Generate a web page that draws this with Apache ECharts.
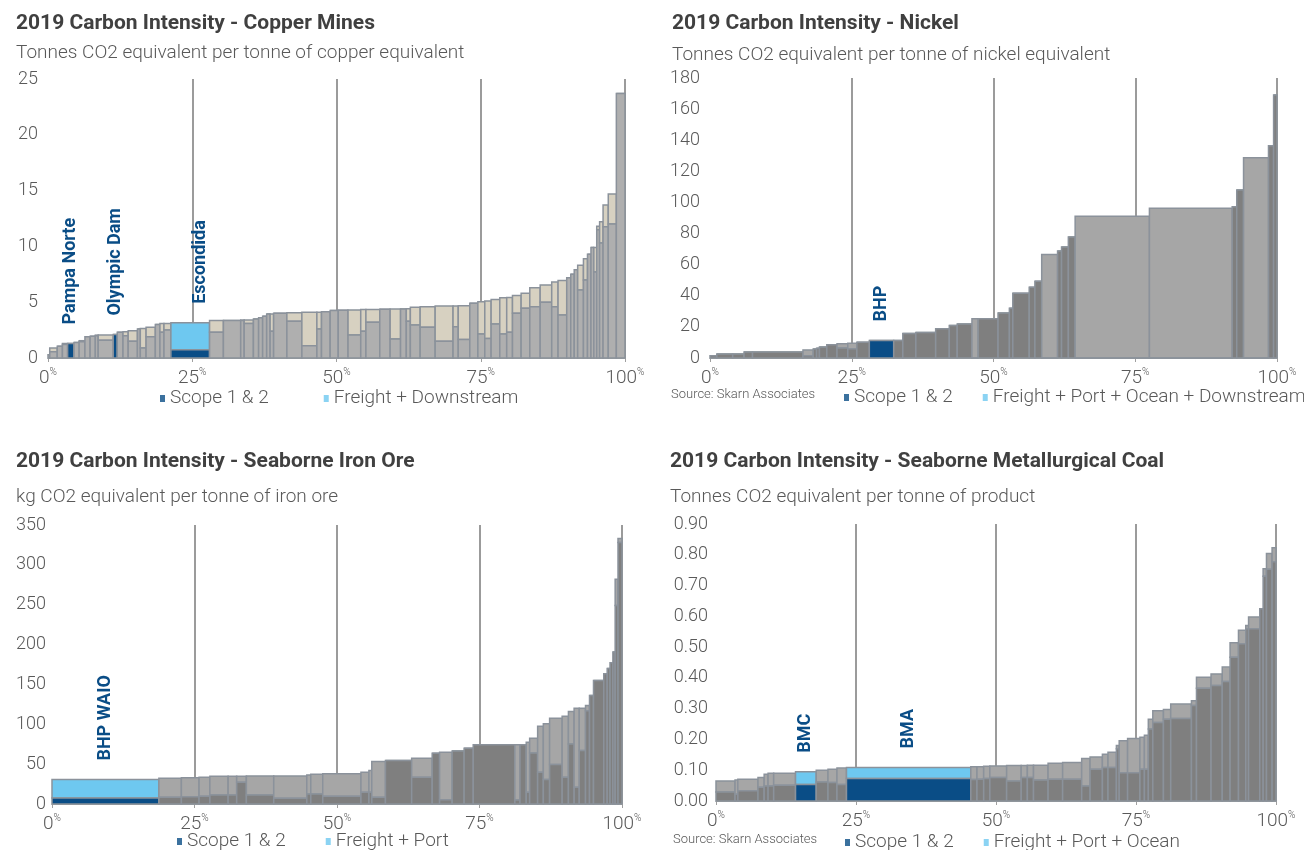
<!DOCTYPE html>
<html>
<head>
<meta charset="utf-8">
<script src="https://cdn.jsdelivr.net/npm/echarts@6/dist/echarts.min.js"></script>
<style>html,body{margin:0;padding:0;background:#fff}#c{width:1304px;height:850px}</style>
</head>
<body>
<div id="c"></div>
<script>
// ---------- DATA ----------
const xTicks = [0, 25, 50, 75, 100];

// Copper: share of production (%), scope 1&2, total (t CO2e / t CuEq)
const copperShare = [0.3,1.3,0.9,0.9,1.1,0.9,1.0,0.9,0.9,0.5,2.6,0.7,1.0,0.9,1.6,0.5,1.0,1.6,0.8,0.7,1.2,6.7,2.4,3.0,0.6,1.6,0.9,0.7,0.7,0.6,0.6,2.3,2.6,2.6,0.8,1.5,1.4,1.7,2.2,0.9,2.4,1.8,1.8,1.0,0.7,1.7,2.6,3.1,0.9,2.0,1.4,1.2,1.1,1.5,1.2,1.0,1.5,1.5,1.8,2.0,1.1,1.5,0.7,0.6,0.6,1.0,0.7,0.6,0.5,0.5,0.5,0.6,0.9,1.4,1.5];
const copperScope = [0.3,0.55,1.05,1.2,1.3,1.4,1.45,1.9,1.95,2.0,1.6,2.1,2.3,2.0,1.5,2.6,0.9,1.9,3.0,2.3,2.5,0.75,2.3,3.35,3.35,3.1,3.5,3.6,3.75,3.95,2.4,4.0,3.3,1.1,2.6,4.15,4.25,4.28,2.05,2.4,3.2,4.36,1.7,4.4,3.3,2.95,2.75,1.5,2.8,1.65,4.9,2.15,1.75,3.05,2.15,2.3,4.0,4.45,4.6,5.0,4.6,3.85,7.2,7.5,7.9,6.1,7.0,9.3,9.9,7.7,11.5,10.3,11.75,12.0,23.7];
const copperTotal = [0.3,0.9,1.05,1.3,1.3,1.4,1.55,1.9,1.95,2.05,2.05,2.1,2.3,2.35,2.45,2.6,2.65,2.75,3.0,3.1,3.1,3.15,3.35,3.35,3.4,3.4,3.5,3.6,3.75,3.95,3.95,4.0,4.05,4.1,4.1,4.15,4.25,4.28,4.3,4.34,4.35,4.36,4.38,4.4,4.42,4.55,4.6,4.65,4.65,4.68,4.9,5.05,5.1,5.25,5.4,5.42,5.6,5.8,6.3,6.55,6.8,6.95,7.2,7.5,7.9,8.3,8.9,9.3,9.9,9.9,11.8,12.2,13.7,14.7,23.7];
const copperBHPIndex = [4, 11, 21];
const copperBHPNames = ['Pampa Norte', 'Olympic Dam', 'Escondida'];

// Nickel
const nickelShare = [1.2,2.8,2.0,1.5,8.9,1.8,0.6,0.5,1.3,1.8,1.9,1.6,2.2,4.3,1.6,2.3,3.5,2.4,1.4,2.6,1.1,3.5,2.0,0.6,2.9,1.0,1.2,2.8,0.7,1.2,1.2,13.1,14.6,0.8,1.2,4.4,0.9,0.6];
const nickelScope = [1.5,2.5,2.5,3.8,3.8,1.5,5.8,6.2,7.0,8.5,6.5,6.0,10.2,11.3,11.3,15.8,16.4,18.8,20.9,21.8,0,25.2,28.9,32,41.6,45.5,49.4,0,68.8,71.3,77.8,0,0,97.2,108,0,136.4,169];
const nickelTotal = [1.5,2.5,2.5,3.8,3.8,5.2,5.8,6.2,7.0,8.5,9.2,9.5,10.2,11.3,11.3,15.8,16.4,18.8,20.9,21.8,25.2,25.2,28.9,32,41.6,45.5,49.4,66.6,68.8,71.3,77.8,91.2,96.3,97.2,108,128.7,136.4,169];
const nickelBHPIndex = [13];
const nickelBHPNames = ['BHP'];

// Seaborne iron ore (kg CO2e / t)
const ironShare = [18.75,3.95,3.1,1.9,3.2,1.5,1.7,4.8,5.8,0.7,2.1,6.7,1.4,0.5,2.4,4.6,3.6,1.3,2.2,2.1,1.6,7.3,0.9,1.1,0.6,1.4,1.0,1.1,2.2,1.1,1.0,0.9,1.1,0.7,0.7,1.8,0.6,0.5,0.5,0.4,0.5,0.7];
const ironScope = [7.5,8.4,9.2,9.6,11.3,11.3,27.2,11.3,7.1,12.6,12.6,9.6,14.7,14.7,8.4,54.5,33.5,63.7,5.4,66.6,70,74.2,5,74.2,14.7,64,39.8,30.6,49.5,33.5,75.4,21,67,117,136,155,163.5,170,177.3,190.7,249,328];
const ironTotal = [30.6,32.3,33,33.5,34.8,34.8,34.8,35.2,35.2,36.5,37.3,38.1,39.8,42,53.2,54.5,57.4,63.7,65,66.6,70,74.2,74.2,74.2,77.5,82.6,97.6,100.6,107.7,110.2,116,120,120,123.6,136,155,163.5,170,177.3,190.7,282,333];
const ironBHPIndex = [0];
const ironBHPNames = ['BHP WAIO'];

// Seaborne metallurgical coal (t CO2e / t product)
const coalShare = [3.4,0.5,3.6,1.1,0.7,1.0,3.9,3.7,2.1,1.6,1.7,22.2,1.1,1.2,1.1,3.0,2.6,1.1,1.1,2.6,2.6,3.4,1.5,2.2,1.0,1.5,0.5,1.5,2.2,0.8,0.7,0.8,1.9,1.3,3.7,0.9,2.6,2.0,1.4,1.5,1.3,0.5,2.0,0.6,0.6,1.0,0.7];
const coalScope = [0.029,0.022,0.033,0.045,0.049,0.049,0.051,0.054,0.062,0.06,0.054,0.073,0.07,0.071,0.073,0.076,0.065,0.076,0.076,0.068,0.071,0.071,0.049,0.103,0.109,0.109,0.17,0.092,0.092,0.103,0.103,0.234,0.255,0.266,0.268,0.31,0.366,0.375,0.388,0.467,0.511,0.56,0.56,0.625,0.73,0.753,0.777];
const coalTotal = [0.065,0.068,0.071,0.076,0.087,0.09,0.09,0.095,0.10,0.103,0.107,0.109,0.111,0.111,0.113,0.114,0.115,0.115,0.116,0.116,0.123,0.125,0.138,0.143,0.152,0.158,0.18,0.196,0.203,0.207,0.214,0.266,0.293,0.297,0.315,0.326,0.402,0.413,0.435,0.514,0.555,0.57,0.598,0.625,0.755,0.804,0.823];
const coalBHPIndex = [7, 11];
const coalBHPNames = ['BMC', 'BMA'];

// ---------- STYLE ----------
const FONT = 'Roboto, "Liberation Sans", sans-serif';
const TXT = '#595959';
const DARKBLUE = '#0a4d86';
const LIGHTBLUE = '#6ec8f0';
const OUTLINE = '#8b929b';

const panels = [
  { title: '2019 Carbon Intensity - Copper Mines', sub: 'Tonnes CO2 equivalent per tonne of copper equivalent',
    titleLeft: 16, titleTop: 13, gap: 10,
    grid: {left: 48, top: 79, width: 577, height: 279}, yMax: 25, yInt: 5, yDec: 0, yMargin: 10,
    share: copperShare, scope: copperScope, total: copperTotal, hiIdx: copperBHPIndex, hiNames: copperBHPNames,
    cScope: '#afafaf', cFreight: '#d7d1c1',
    legendNames: ['Scope 1 & 2', 'Freight + Downstream'], legend: {left: 160, top: 389, itemGap: 55},
    labelDx: {Escondida: 10} },
  { title: '2019 Carbon Intensity - Nickel', sub: 'Tonnes CO2 equivalent per tonne of nickel equivalent',
    titleLeft: 672, titleTop: 13, gap: 12,
    grid: {left: 710, top: 78, width: 567, height: 280}, yMax: 180, yInt: 20, yDec: 0, yMargin: 10,
    share: nickelShare, scope: nickelScope, total: nickelTotal, hiIdx: nickelBHPIndex, hiNames: nickelBHPNames,
    cScope: '#7f7f7f', cFreight: '#a6a6a6',
    legendNames: ['Scope 1 & 2', 'Freight + Port + Ocean + Downstream'], legend: {left: 844, top: 388, itemGap: 30},
    source: {x: 671, y: 396}, labelDx: {} },
  { title: '2019 Carbon Intensity - Seaborne Iron Ore', sub: 'kg CO2 equivalent per tonne of iron ore',
    titleLeft: 16, titleTop: 451, gap: 16,
    grid: {left: 52, top: 525, width: 570, height: 279}, yMax: 350, yInt: 50, yDec: 0, yMargin: 6,
    share: ironShare, scope: ironScope, total: ironTotal, hiIdx: ironBHPIndex, hiNames: ironBHPNames,
    cScope: '#7f7f7f', cFreight: '#a6a6a6',
    legendNames: ['Scope 1 & 2', 'Freight + Port'], legend: {left: 177, top: 832, itemGap: 40}, labelDx: {} },
  { title: '2019 Carbon Intensity - Seaborne Metallurgical Coal', sub: 'Tonnes CO2 equivalent per tonne of product',
    titleLeft: 670, titleTop: 451, gap: 16,
    grid: {left: 716, top: 524, width: 560, height: 277}, yMax: 0.9, yInt: 0.1, yDec: 2, yMargin: 8,
    share: coalShare, scope: coalScope, total: coalTotal, hiIdx: coalBHPIndex, hiNames: coalBHPNames,
    cScope: '#7f7f7f', cFreight: '#a6a6a6',
    legendNames: ['Scope 1 & 2', 'Freight + Port + Ocean'], legend: {left: 845, top: 833, itemGap: 30},
    source: {x: 673, y: 841}, labelDx: {} }
];

const option = {
  backgroundColor: '#ffffff',
  animation: false,
  title: [], grid: [], xAxis: [], yAxis: [], series: [], legend: [], graphic: []
};

panels.forEach((p, i) => {
  option.title.push({
    text: p.title, subtext: p.sub, left: p.titleLeft, top: p.titleTop, padding: 0, itemGap: p.gap,
    textStyle: {fontFamily: FONT, fontSize: 21, fontWeight: 'bold', color: '#404040'},
    subtextStyle: {fontFamily: FONT, fontSize: 19, fontWeight: 300, color: TXT}
  });
  option.grid.push(Object.assign({containLabel: false}, p.grid));
  option.xAxis.push({
    type: 'value', gridIndex: i, min: 0, max: 100, interval: 25,
    axisLine: {show: true, lineStyle: {color: '#a0a0a0', width: 1}},
    axisTick: {show: true, length: 4, lineStyle: {color: '#a0a0a0'}},
    splitLine: {show: false},
    axisLabel: {
      margin: 9, color: TXT,
      formatter: v => '{n|' + v + '}{p|%}',
      rich: {n: {fontFamily: FONT, fontSize: 19, fontWeight: 300, color: TXT, lineHeight: 22},
             p: {fontFamily: FONT, fontSize: 10, fontWeight: 300, color: TXT, verticalAlign: 'top', lineHeight: 22}}
    }
  });
  option.yAxis.push({
    type: 'value', gridIndex: i, min: 0, max: p.yMax, interval: p.yInt,
    axisLine: {show: false}, axisTick: {show: false}, splitLine: {show: false},
    axisLabel: {margin: p.yMargin, color: TXT, fontFamily: FONT, fontSize: 18, fontWeight: 300,
      formatter: v => v.toFixed(p.yDec)}
  });

  // vertical percentile reference lines (behind the bars)
  option.series.push({
    type: 'line', xAxisIndex: i, yAxisIndex: i, data: [], z: 0, silent: true,
    markLine: {
      z: 0, silent: true, symbol: 'none', label: {show: false},
      lineStyle: {color: '#9b9b9b', width: 2, type: 'solid'},
      data: xTicks.filter(t => t > 0).map(t => ({xAxis: t}))
    }
  });

  // bars
  let acc = 0;
  const data = p.share.map((w, k) => {
    const s = acc; acc += w;
    return [s, acc, p.scope[k], p.total[k], k];
  });
  option.series.push({
    type: 'custom', xAxisIndex: i, yAxisIndex: i, z: 6, silent: true,
    encode: {x: [0, 1], y: [2, 3]},
    data: data,
    renderItem: (params, api) => {
      const x0 = api.value(0), x1 = api.value(1), sc = api.value(2), tt = api.value(3), k = api.value(4);
      const b = api.coord([x0, 0]);
      const e1 = api.coord([x1, sc]);
      const e2 = api.coord([x1, tt]);
      const hi = p.hiIdx.indexOf(k);
      const isHi = hi >= 0;
      const children = [
        {type: 'rect', shape: {x: b[0], y: e2[1], width: e1[0] - b[0], height: e1[1] - e2[1]},
         style: {fill: isHi ? LIGHTBLUE : p.cFreight, stroke: OUTLINE, lineWidth: 1.5}},
        {type: 'rect', shape: {x: b[0], y: e1[1], width: e1[0] - b[0], height: b[1] - e1[1]},
         style: {fill: isHi ? DARKBLUE : p.cScope, stroke: OUTLINE, lineWidth: 1.5}}
      ];
      if (isHi) {
        const name = p.hiNames[hi];
        const cx = (b[0] + e1[0]) / 2 + (p.labelDx[name] || 0);
        children.push({type: 'text', x: cx, y: e2[1] - 19, rotation: Math.PI / 2, z2: 10,
          style: {text: name, align: 'left', verticalAlign: 'middle', fill: DARKBLUE,
                  font: 'bold 18px ' + FONT}});
      }
      return {type: 'group', children: children};
    }
  });

  // legend entries
  option.series.push({type: 'scatter', name: p.legendNames[0], xAxisIndex: i, yAxisIndex: i, data: [], itemStyle: {color: DARKBLUE}});
  option.series.push({type: 'scatter', name: p.legendNames[1], xAxisIndex: i, yAxisIndex: i, data: [], itemStyle: {color: LIGHTBLUE}});
  option.legend.push({
    left: p.legend.left, top: p.legend.top, itemGap: p.legend.itemGap, padding: 0, width: 600,
    icon: 'rect', itemWidth: 5, itemHeight: 7, selectedMode: false,
    textStyle: {fontFamily: FONT, fontSize: 19, fontWeight: 300, color: TXT},
    data: p.legendNames
  });
  if (p.source) {
    option.graphic.push({type: 'text', left: p.source.x, top: p.source.y - 8,
      style: {text: 'Source: Skarn Associates', fill: TXT, font: '300 13px ' + FONT}});
  }
});

const chart = echarts.init(document.getElementById('c'), null, {renderer: 'canvas'});
chart.setOption(option);
</script>
</body>
</html>
